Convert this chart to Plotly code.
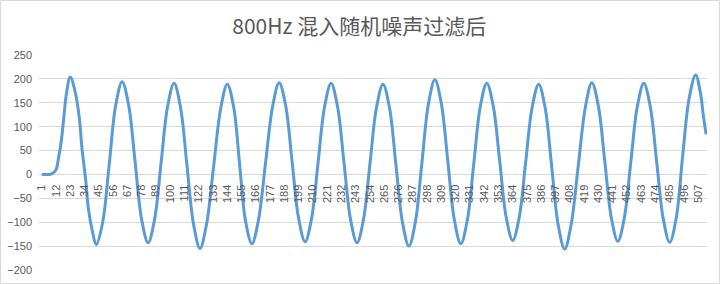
import plotly.graph_objects as go

# Sample index (x) and filtered amplitude (y)
sample_idx = [1, 4, 7, 9, 12, 14, 16, 18, 20, 23,
              27, 30, 32, 35, 37, 40, 43,
              48, 53, 58, 63,
              68, 73, 78, 83,
              88, 93, 98, 103,
              108, 113, 118, 123,
              128, 133.5, 139, 144,
              149, 153.5, 158, 163,
              168, 173.5, 179, 184,
              189, 194, 199, 204,
              209, 214, 219, 224,
              229, 234, 239, 244,
              249, 254, 259, 264,
              269, 274, 279, 284,
              289, 294, 299, 304,
              309, 314, 319, 324,
              329, 334, 339, 344,
              349, 354, 359, 364,
              369, 374, 379, 384,
              389, 394, 399, 404,
              409, 414.5, 420, 425,
              430, 435, 440, 445,
              450, 455, 460, 465,
              470, 475, 480, 485,
              490, 495, 500, 505,
              508.5, 511, 513]
amplitude = [0, 0, 0, 2, 10, 35, 68, 118, 168, 204,
             170, 118, 56, -14, -72, -118, -147,
             -100, 20, 144, 194,
             145, 26, -94, -143,
             -94, 24, 142, 191,
             140, 18, -104, -155,
             -105, 17, 139, 189,
             140, 22, -96, -145,
             -96, 24, 143, 192,
             144, 26, -92, -141,
             -92, 25, 142, 191,
             142, 24, -94, -143,
             -94, 23, 140, 189,
             140, 20, -100, -150,
             -99, 24, 147, 198,
             148, 27, -95, -145,
             -96, 23, 142, 191,
             143, 27, -90, -138,
             -90, 26, 141, 189,
             139, 17, -105, -156,
             -105, 18, 141, 192,
             143, 26, -91, -140,
             -91, 26, 142, 191,
             142, 25, -93, -142,
             -91, 40, 160, 208,
             173, 121, 84]

# Category labels shown on the horizontal axis
x_tick_labels = [1, 12, 23, 34, 45, 56, 67, 78, 89, 100, 111, 122, 133, 144,
                 155, 166, 177, 188, 199, 210, 221, 232, 243, 254, 265, 276,
                 287, 298, 309, 320, 331, 342, 353, 364, 375, 386, 397, 408,
                 419, 430, 441, 452, 463, 474, 485, 496, 507]
y_tick_values = [-200, -150, -100, -50, 0, 50, 100, 150, 200, 250]

title_text = "800Hz 混入随机噪声过滤后"

W, H = 720, 284
ML, MR, MT, MB = 39, 13, 55, 14
PW, PH = W - ML - MR, H - MT - MB

y_min, y_max = -200, 250

fig = go.Figure()
fig.add_trace(go.Scatter(
    x=sample_idx, y=amplitude, mode="lines",
    line=dict(color="#5B9BD5", width=3, shape="spline", smoothing=1),
    hoverinfo="skip", showlegend=False,
))

tick_font = dict(family="Liberation Sans, Arial, sans-serif", size=11, color="#595959")

fig.update_layout(
    width=W, height=H,
    margin=dict(l=ML, r=MR, t=MT, b=MB, pad=0, autoexpand=False),
    paper_bgcolor="white", plot_bgcolor="white",
    title=dict(text=title_text, x=0.499, xref="container", xanchor="center",
               y=1 - 27 / H, yref="container", yanchor="middle",
               font=dict(family="Noto Sans CJK SC, sans-serif", size=21, color="#595959")),
    xaxis=dict(
        type="linear", range=[-1.08, -1.08 + PW / 1.2976], automargin=False,
        tickmode="array", tickvals=x_tick_labels, ticktext=[str(v) for v in x_tick_labels],
        tickangle=-90, tickfont=tick_font, showgrid=False, zeroline=False,
        showline=False, ticks="", anchor="free",
        position=(0 - y_min) / (y_max - y_min), ticklabelstandoff=7,
    ),
    yaxis=dict(
        range=[y_min, y_max], tickmode="array", tickvals=y_tick_values, automargin=False,
        tickfont=tick_font, showgrid=True, gridcolor="#D9D9D9", gridwidth=1,
        zeroline=False, showline=False, ticks="", ticklabelstandoff=6,
    ),
    shapes=[dict(type="rect", xref="paper", yref="paper",
                 x0=(-ML + 0.5) / PW, x1=1 + (MR - 0.5) / PW,
                 y0=(-MB + 0.5) / PH, y1=1 + (MT - 0.5) / PH,
                 line=dict(color="#D9D9D9", width=1), layer="below")],
)

fig.write_html("out.html")
